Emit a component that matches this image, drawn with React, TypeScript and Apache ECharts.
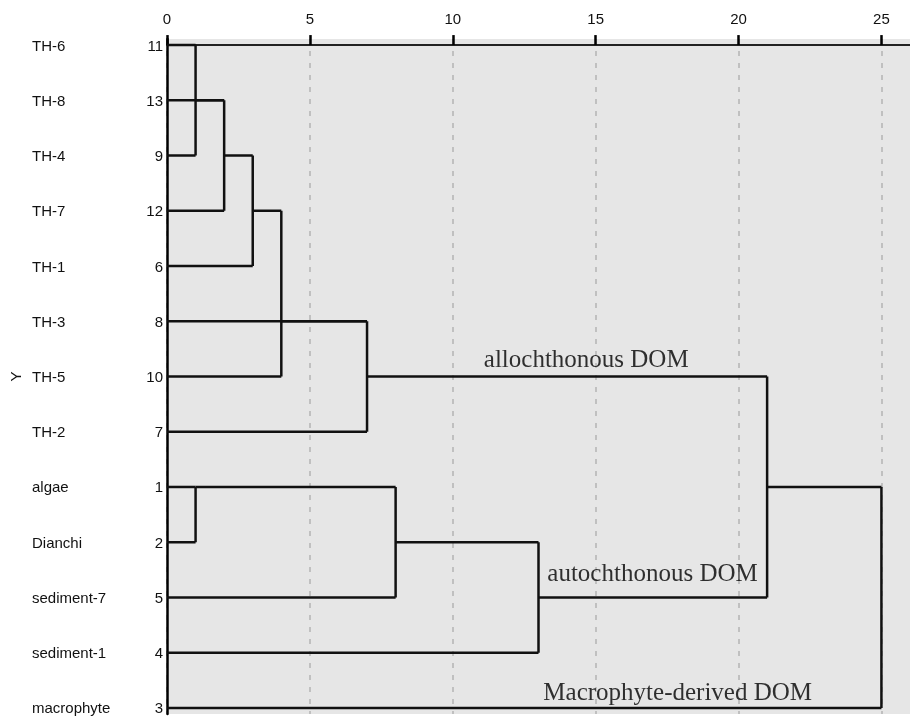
import React, { useEffect, useRef } from "react";
import * as echarts from "echarts";

const leafNames = ["TH-6", "TH-8", "TH-4", "TH-7", "TH-1", "TH-3", "TH-5", "TH-2", "algae", "Dianchi", "sediment-7", "sediment-1", "macrophyte"];
const leafIds = ["11", "13", "9", "12", "6", "8", "10", "7", "1", "2", "5", "4", "3"];
const leafEnds = [1, 2, 1, 2, 3, 7, 4, 7, 1, 1, 8, 13, 25];

const mergeHeights = [1, 2, 3, 4, 7, 1, 8, 13, 21, 25];
const mergeTopRows = [0, 1, 2, 3, 5, 8, 8, 9, 6, 8];
const mergeBottomRows = [2, 3, 4, 6, 7, 9, 10, 11, 10, 12];
const mergeOutRows: (number | null)[] = [1, 2, 3, 5, 6, 8, 9, 10, 8, null];
const mergeParentHeights: (number | null)[] = [2, 3, 4, 7, 21, 8, 13, 21, 25, null];

const xTicks = [0, 5, 10, 15, 20, 25];

const annotationTexts = ["allochthonous DOM", "autochthonous DOM", "Macrophyte-derived DOM"];
const annotationX = [14.67, 16.99, 17.87];
const annotationY = [5.67, 9.54, 11.71];

const SANS = "'Liberation Sans', Arial, sans-serif";
const SERIF = "'Liberation Serif', 'Times New Roman', serif";

export default function App() {
  const ref = useRef<HTMLDivElement>(null);
  useEffect(() => {
    if (!ref.current) return;
    const chart = echarts.init(ref.current, undefined, { renderer: "svg" });

    const segs: any[] = [];
    leafEnds.forEach((e, i) => segs.push({ coords: [[0, i], [e, i]] }));
    mergeHeights.forEach((h, k) => {
      segs.push({ coords: [[h, mergeTopRows[k]], [h, mergeBottomRows[k]]] });
      const o = mergeOutRows[k];
      const p = mergeParentHeights[k];
      if (o !== null && p !== null) segs.push({ coords: [[h, o], [p, o]] });
    });

    const rows = leafNames.map((_, i) => i);

    chart.setOption({
      animation: false,
      grid: {
        left: 167,
        top: 39,
        width: 744,
        bottom: 5,
        show: true,
        backgroundColor: "#e6e6e6",
        borderWidth: 0,
      },
      xAxis: [
        {
          type: "value",
          position: "top",
          min: 0,
          max: 26,
          interval: 5,
          axisLine: { show: true, lineStyle: { color: "#000", width: 2 } },
          axisTick: { show: true, customValues: xTicks, length: 10, inside: false, lineStyle: { color: "#000", width: 2.5 } },
          axisLabel: { show: true, customValues: xTicks, margin: 13, fontSize: 15, color: "#111", fontFamily: SANS },
          splitLine: { show: true, lineStyle: { color: "#b4b4b4", width: 1.5, type: [5, 7] } },
        },
        {
          type: "value",
          position: "bottom",
          min: 0,
          max: 26,
          interval: 5,
          axisLine: { show: true, lineStyle: { color: "#222", width: 2 } },
          axisTick: { show: false },
          axisLabel: { show: false },
          splitLine: { show: false },
        },
      ],
      yAxis: [
        {
          type: "value",
          position: "left",
          inverse: true,
          min: -0.11,
          max: 12.11,
          name: "Y",
          nameLocation: "middle",
          nameRotate: 90,
          nameGap: 144,
          nameTextStyle: { fontSize: 15, color: "#111", fontFamily: SANS },
          axisLine: { show: true, lineStyle: { color: "#000", width: 2.5 } },
          axisTick: { show: false },
          splitLine: { show: false },
          axisLabel: {
            show: true,
            customValues: rows,
            margin: 4,
            fontSize: 15,
            color: "#111",
            fontFamily: SANS,
            formatter: (v: number) => leafIds[Math.round(v)] ?? "",
          },
        },
        {
          type: "value",
          position: "left",
          inverse: true,
          min: -0.11,
          max: 12.11,
          axisLine: { show: false },
          axisTick: { show: false },
          splitLine: { show: false },
          axisLabel: {
            show: true,
            customValues: rows,
            margin: 135,
            align: "left",
            fontSize: 15,
            color: "#111",
            fontFamily: SANS,
            formatter: (v: number) => leafNames[Math.round(v)] ?? "",
          },
        },
      ],
      series: [
        {
          type: "lines",
          coordinateSystem: "cartesian2d",
          xAxisIndex: 0,
          yAxisIndex: 0,
          polyline: true,
          silent: true,
          lineStyle: { color: "#111", width: 2.5, opacity: 1 },
          data: segs,
        },
        {
          type: "scatter",
          xAxisIndex: 0,
          yAxisIndex: 0,
          symbolSize: 0,
          silent: true,
          label: {
            show: true,
            position: "inside",
            fontSize: 25,
            color: "#000",
            fontFamily: SERIF,
            formatter: (p: any) => annotationTexts[p.dataIndex],
          },
          data: annotationX.map((x, i) => [x, annotationY[i]]),
        },
      ],
    });
    return () => chart.dispose();
  }, []);
  return <div ref={ref} style={{ position: "fixed", left: 0, top: 0, width: 910, height: 719 }} />;
}
